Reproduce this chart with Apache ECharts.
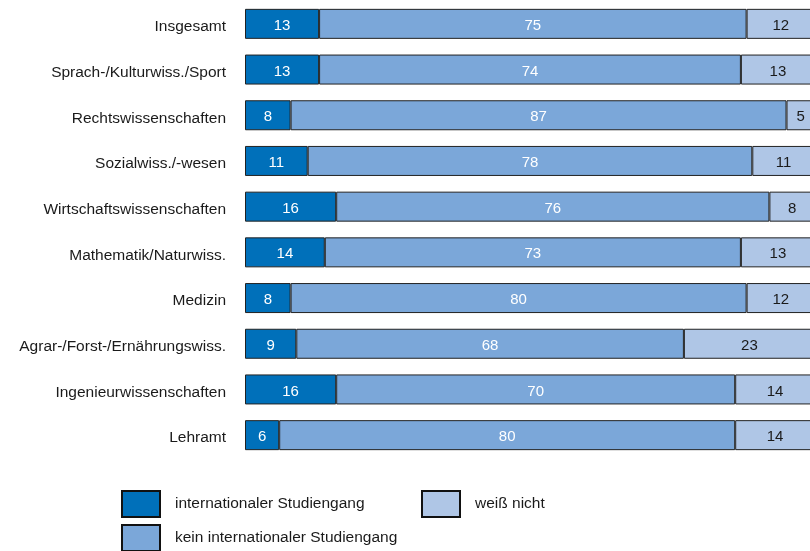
<!DOCTYPE html>
<html><head><meta charset="utf-8">
<script src="https://cdn.jsdelivr.net/npm/echarts@6/dist/echarts.min.js"></script>
<style>html,body{margin:0;padding:0;background:#fff}#c{width:810px;height:551px}</style>
</head><body><div id="c"></div>
<script>
const categories = ["Insgesamt","Sprach-/Kulturwiss./Sport","Rechtswissenschaften","Sozialwiss./-wesen","Wirtschaftswissenschaften","Mathematik/Naturwiss.","Medizin","Agrar-/Forst-/Ernährungswiss.","Ingenieurwissenschaften","Lehramt"];
const seriesNames = ["internationaler Studiengang","kein internationaler Studiengang","weiß nicht"];
const international = [13,13,8,11,16,14,8,9,16,6];
const keinInternational = [75,74,87,78,76,73,80,68,70,80];
const weissNicht = [12,13,5,11,8,13,12,23,14,14];

const colors = ["#0070BA","#7BA7D9","#AFC6E6"];
const labelColors = ["#ffffff","#ffffff","#1a1a1a"];
const values = [international, keinInternational, weissNicht];

const chart = echarts.init(document.getElementById('c'));
const font = "'Liberation Sans', Arial, sans-serif";
const fs = 15;
function legendAt(name, left, top){
  return {
    data:[name], left:left, top:top, orient:'horizontal',
    itemWidth:38, itemHeight:26, icon:'rect',
    itemStyle:{borderColor:'#111', borderWidth:2},
    textStyle:{fontFamily:font, fontSize:15.5, color:'#1a1a1a', padding:[0,0,3,10]},
    selectedMode:false
  };
}
chart.setOption({
  animation:false,
  color: colors,
  grid:{left:245, top:1, width:570, height:457, containLabel:false, outerBoundsMode:'none'},
  xAxis:{type:'value', min:0, max:100, show:false},
  yAxis:{type:'category', data:categories, inverse:true,
    axisLine:{show:false}, axisTick:{show:false},
    axisLabel:{margin:19, fontFamily:font, fontSize:15.5, color:'#1a1a1a',
      formatter: v => '{a|' + v + '}',
      rich:{a:{fontFamily:font, fontSize:15.5, color:'#1a1a1a', padding:[6,0,0,0]}}}},
  legend:[legendAt(seriesNames[0],116,485), legendAt(seriesNames[2],416,485), legendAt(seriesNames[1],116,519)],
  series: values.map((v,i)=>({
    name: seriesNames[i], type:'bar', stack:'s', data:v, barWidth:30,
    itemStyle:{color:colors[i], borderColor:'#222', borderWidth:1},
    label:{show:true, position:'inside', offset:[0,2], color:labelColors[i], fontFamily:font, fontSize:fs}
  }))
});
</script></body></html>
